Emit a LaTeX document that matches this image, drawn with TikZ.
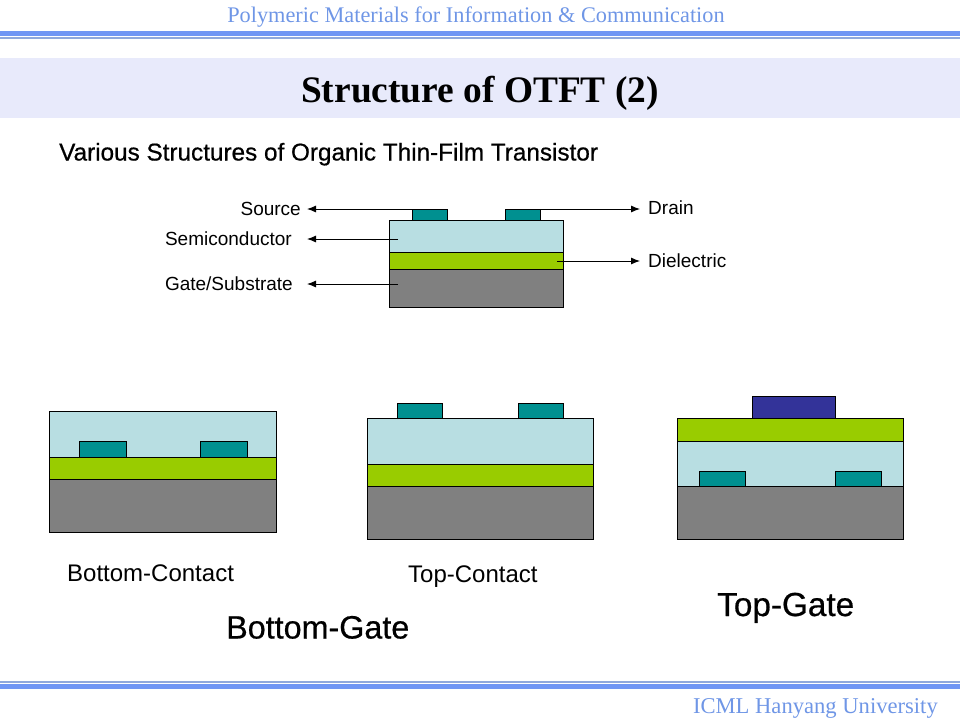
\documentclass[tikz,border=0pt]{standalone}
\usepackage{fontspec}
\setmainfont{Liberation Sans}
\newfontfamily\headfont{Liberation Serif}
\newfontfamily\thickfont[FakeBold=0.6]{Liberation Sans}
\usepackage{xcolor}
\usetikzlibrary{arrows.meta,positioning,calc}
\definecolor{bandblue}{HTML}{7096F4}
\definecolor{thinblue}{HTML}{8FA8DC}
\definecolor{headblue}{HTML}{6F96E6}
\definecolor{titleband}{HTML}{E8EAFB}
\definecolor{semicol}{HTML}{B8DEE2}
\definecolor{dielcol}{HTML}{99CC00}
\definecolor{gatecol}{HTML}{808080}
\definecolor{contcol}{HTML}{009090}
\definecolor{topcol}{HTML}{333399}

\begin{document}
\begin{tikzpicture}[x=1pt, y=-1pt,
  ar/.style={-{Latex[length=9pt,width=7pt]}, line width=0.9pt},
  layer/.style={draw=black, line width=0.8pt, anchor=north west, inner sep=0pt, minimum width=#1},
  semi/.style={layer=#1, fill=semicol},
  diel/.style={layer=#1, fill=dielcol},
  gate/.style={layer=#1, fill=gatecol},
  cont/.style={layer=#1, fill=contcol},
  lbl/.style={font=\fontsize{19}{22}\selectfont, inner ysep=0pt},
  capt/.style={font=\fontsize{24}{28}\selectfont, inner sep=0pt, anchor=base west},
  big/.style={font=\thickfont\fontsize{#1}{38}\selectfont, inner sep=0pt, anchor=base west}]
  \useasboundingbox (0,0) rectangle (960,720);
  % header and footer bands
  \fill[bandblue] (0,31) rectangle (960,36);
  \fill[thinblue] (0,37) rectangle (960,39);
  \fill[thinblue] (0,681) rectangle (960,683);
  \fill[bandblue] (0,684) rectangle (960,689);
  \fill[titleband] (0,58) rectangle (960,118);
  \node[headblue, inner sep=0pt, anchor=base] (header) at (476,22)
    {\headfont\fontsize{22.3}{26}\selectfont Polymeric Materials for Information \& Communication};
  \node[headblue, inner sep=0pt, anchor=base east] (footer) at (938,713)
    {\headfont\fontsize{22.6}{26}\selectfont ICML Hanyang University};
  \node[inner sep=0pt, anchor=base] (title) at (480,102)
    {\headfont\bfseries\fontsize{37.4}{42}\selectfont Structure of OTFT (2)};
  \node[inner sep=0pt, anchor=base west] (subtitle) at (59,160.5)
    {\thickfont\fontsize{24.3}{28}\selectfont Various Structures of Organic Thin-Film Transistor};
  % reference stack with its labels
  \node[semi=174pt, minimum height=32pt] (refSemi) at (389,220) {};
  \node[diel=174pt, minimum height=17pt] (refDiel) at (389,252) {};
  \node[gate=174pt, minimum height=38pt] (refGate) at (389,269) {};
  \node[cont=35pt, minimum height=11pt] (refSrc) at (412,209) {};
  \node[cont=35pt, minimum height=11pt] (refDrn) at (505,209) {};
  \coordinate (semiEnd) at (398,239);
  \coordinate (gateEnd) at (398,284);
  \coordinate (dielEnd) at (557,261);
  \node[lbl, anchor=east, inner xsep=6pt] (lblSource) at (307,208.5) {Source};
  \node[lbl, anchor=east, inner xsep=15pt] (lblSemi) at (307,239) {Semiconductor};
  \node[lbl, anchor=east, inner xsep=14pt] (lblGate) at (307,284) {Gate/Substrate};
  \node[lbl, anchor=west, inner xsep=8pt] (lblDrain) at (640,208) {Drain};
  \node[lbl, anchor=west, inner xsep=8pt] (lblDiel) at (640,261) {Dielectric};
  \draw[ar] (refSrc.north west) -- (lblSource.east |- refSrc.north west);
  \draw[ar] (semiEnd) -- (lblSemi.east |- semiEnd);
  \draw[ar] (gateEnd) -- (lblGate.east |- gateEnd);
  \draw[ar] (refDrn.north east) -- (lblDrain.west |- refDrn.north east);
  \draw[ar] (dielEnd) -- (lblDiel.west |- dielEnd);
  % bottom contact
  \node[semi=227pt, minimum height=46pt] (bcSemi) at (49,411) {};
  \node[diel=227pt, minimum height=22pt] (bcDiel) at (49,457) {};
  \node[gate=227pt, minimum height=53pt] (bcGate) at (49,479) {};
  \node[cont=47pt, minimum height=16pt] (bcSrc) at (79,441) {};
  \node[cont=47pt, minimum height=16pt] (bcDrn) at (200,441) {};
  \node[capt] (bcCap) at (67,581) {Bottom-Contact};
  % top contact
  \node[semi=226pt, minimum height=46pt] (tcSemi) at (367,418) {};
  \node[diel=226pt, minimum height=22pt] (tcDiel) at (367,464) {};
  \node[gate=226pt, minimum height=53pt] (tcGate) at (367,486) {};
  \node[cont=45pt, minimum height=15pt] (tcSrc) at (397,403) {};
  \node[cont=45pt, minimum height=15pt] (tcDrn) at (518,403) {};
  \node[capt] (tcCap) at (408,582) {Top-Contact};
  % top gate
  \node[layer=83pt, minimum height=22pt, fill=topcol] (tgTop) at (752,396) {};
  \node[diel=226pt, minimum height=23pt] (tgDiel) at (677,418) {};
  \node[semi=226pt, minimum height=45pt] (tgSemi) at (677,441) {};
  \node[gate=226pt, minimum height=53pt] (tgGate) at (677,486) {};
  \node[cont=46pt, minimum height=15pt] (tgSrc) at (699,471) {};
  \node[cont=46pt, minimum height=15pt] (tgDrn) at (835,471) {};
  \node[big=33.3] (tgCap) at (717,616) {Top-Gate};
  \node[big=32.3] (bgCap) at (226,638.5) {Bottom-Gate};
\end{tikzpicture}
\end{document}
